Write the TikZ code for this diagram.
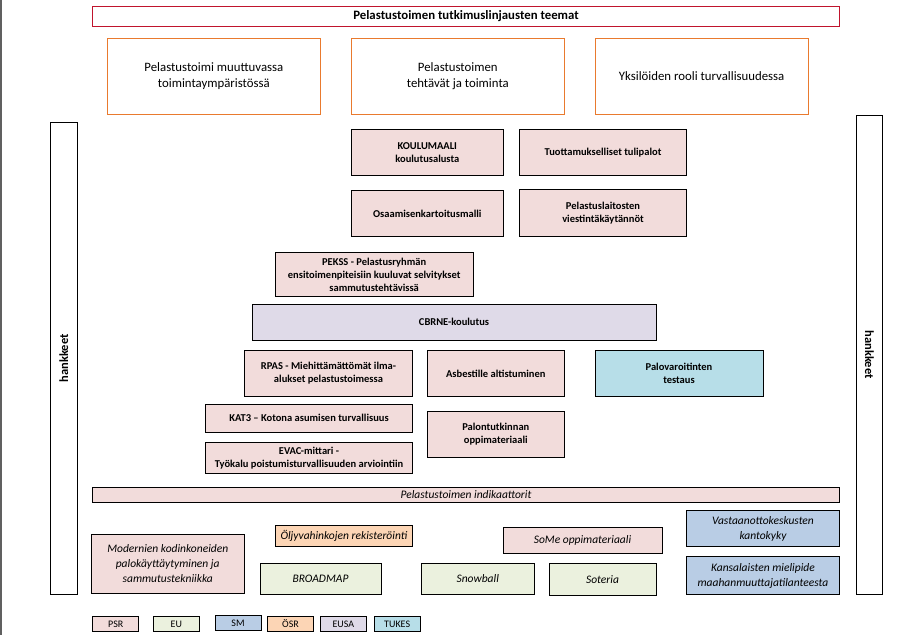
\documentclass[tikz,border=0pt]{standalone}
\usepackage{fontspec}
\setmainfont{Carlito}
\definecolor{cPSR}{HTML}{F2DCDB}
\definecolor{cEU}{HTML}{EBF1DE}
\definecolor{cSM}{HTML}{B9CDE5}
\definecolor{cOSR}{HTML}{FCD5B5}
\definecolor{cEUSA}{HTML}{DFDAE8}
\definecolor{cTUKES}{HTML}{B7DEE8}
\definecolor{cRed}{HTML}{C0142D}
\definecolor{cOrange}{HTML}{E97A2E}
\tikzset{
  base/.style={draw=black, line width=0.9pt, inner sep=0pt, align=center, text=black},
  psr/.style={base, fill=cPSR},
  eubox/.style={base, fill=cEU},
  smbox/.style={base, fill=cSM},
  osr/.style={base, fill=cOSR},
  eusa/.style={base, fill=cEUSA},
  tukes/.style={base, fill=cTUKES},
  boldtxt/.style={font=\fontsize{10.5}{13}\selectfont\bfseries},
  itxt/.style={font=\fontsize{11.5}{15}\selectfont\itshape},
  theme/.style={base, draw=cOrange, line width=1pt, font=\fontsize{12.8}{15.5}\selectfont},
  legtxt/.style={font=\fontsize{10}{11}\selectfont},
  sidetxt/.style={font=\fontsize{12.5}{14}\selectfont\bfseries},
}
\newcommand\bx[7]{\node[#6, minimum width={#4-#2}, minimum height={#5-#3}] (#1) at ({(#2+#4)/2},{(#3+#5)/2}) {#7};}
\begin{document}
\begin{tikzpicture}[x=1pt,y=-1pt]
\useasboundingbox (0,0) rectangle (904,635);
\fill[white] (0,0) rectangle (904,635);
\fill[gray!75!black] (0,0) rectangle (1.6,635);
% title
\bx{title}{92.7}{6.7}{839.3}{26}{base, draw=cRed, line width=1pt, font=\fontsize{12.8}{15}\selectfont\bfseries}{Pelastustoimen tutkimuslinjausten teemat}
% themes
\bx{th1}{107.3}{38.3}{320.5}{114.3}{theme}{Pelastustoimi muuttuvassa\\toimintaympäristössä}
\bx{th2}{351.3}{38.3}{564.3}{114.3}{theme}{Pelastustoimen\\tehtävät ja toiminta}
\bx{th3}{595}{38.3}{808.3}{114.3}{theme}{Yksilöiden rooli turvallisuudessa}
% side bars
\bx{lbar}{50}{122.3}{77.7}{594.3}{base}{}
\bx{rbar}{856.7}{115}{882.3}{594.3}{base}{}
\node[rotate=90, sidetxt] (ltxt) at (lbar.center) {hankkeet};
\node[rotate=-90, sidetxt] (rtxt) at (rbar.center) {hankkeet};
% projects
\bx{koulu}{351.3}{129.3}{503.3}{175}{psr, boldtxt}{KOULUMAALI\\koulutusalusta}
\bx{tuott}{519.3}{129.3}{686.7}{175}{psr, boldtxt}{Tuottamukselliset tulipalot}
\bx{osaam}{351.3}{190}{503.3}{236.7}{psr, boldtxt}{Osaamisenkartoitusmalli}
\bx{viest}{519.3}{189.5}{686.7}{236.7}{psr, boldtxt}{Pelastuslaitosten\\viestintäkäytännöt}
\bx{pekss}{275}{252.3}{473.3}{296.7}{psr, boldtxt}{PEKSS - Pelastusryhmän\\ensitoimenpiteisiin kuuluvat selvitykset\\sammutustehtävissä}
\bx{cbrne}{252}{304}{656}{340}{eusa, boldtxt}{CBRNE-koulutus}
\bx{rpas}{244.3}{350.7}{412.7}{396}{psr, boldtxt}{RPAS - Miehittämättömät ilma-\\alukset pelastustoimessa}
\bx{asbest}{427.3}{350.7}{564.3}{396}{psr, boldtxt}{Asbestille altistuminen}
\bx{palovar}{595}{350.7}{763}{396.5}{tukes, boldtxt}{Palovaroitinten\\testaus}
\bx{kat3}{205.3}{404.3}{412.7}{432.3}{psr, boldtxt}{KAT3 – Kotona asumisen turvallisuus}
\bx{palont}{427.3}{411.7}{564.3}{457.3}{psr, boldtxt}{Palontutkinnan\\oppimateriaali}
\bx{evac}{205.3}{442.3}{412.7}{473.3}{psr, boldtxt}{EVAC-mittari -\\Työkalu poistumisturvallisuuden arviointiin}
% indicators and others
\bx{indik}{92.7}{487.3}{839.3}{502.3}{psr, itxt}{Pelastustoimen indikaattorit}
\bx{modern}{91.5}{534.3}{244}{593.3}{psr, itxt}{Modernien kodinkoneiden\\palokäyttäytyminen ja\\sammutustekniikka}
\bx{oljy}{275.5}{525}{412.3}{546.7}{osr, itxt}{Öljyvahinkojen rekisteröinti}
\bx{broad}{260}{563.3}{381}{594}{eubox, itxt}{BROADMAP}
\bx{snow}{421.3}{563.3}{534.2}{594}{eubox, itxt}{Snowball}
\bx{soter}{549}{563.3}{656}{595}{eubox, itxt}{Soteria}
\bx{some}{503}{527.3}{662}{553.3}{psr, itxt}{SoMe oppimateriaali}
\bx{vasta}{686.7}{510.7}{839.3}{546.7}{smbox, itxt}{Vastaanottokeskusten\\kantokyky}
\bx{kansa}{686.7}{556.7}{839.3}{594.3}{smbox, itxt}{Kansalaisten mielipide\\maahanmuuttajatilanteesta}
% legend
\bx{lpsr}{92.7}{616.5}{138.7}{631.5}{psr, legtxt}{PSR}
\bx{leu}{153.3}{616.5}{199.3}{631.5}{eubox, legtxt}{EU}
\bx{lsm}{215}{615.5}{261}{630.5}{smbox, legtxt}{SM}
\bx{losr}{267.7}{616.5}{313.3}{631.5}{osr, legtxt}{ÖSR}
\bx{leusa}{320}{616.5}{366.7}{631.5}{eusa, legtxt}{EUSA}
\bx{ltukes}{374.3}{616.5}{420}{631.5}{tukes, legtxt}{TUKES}
\end{tikzpicture}
\end{document}
